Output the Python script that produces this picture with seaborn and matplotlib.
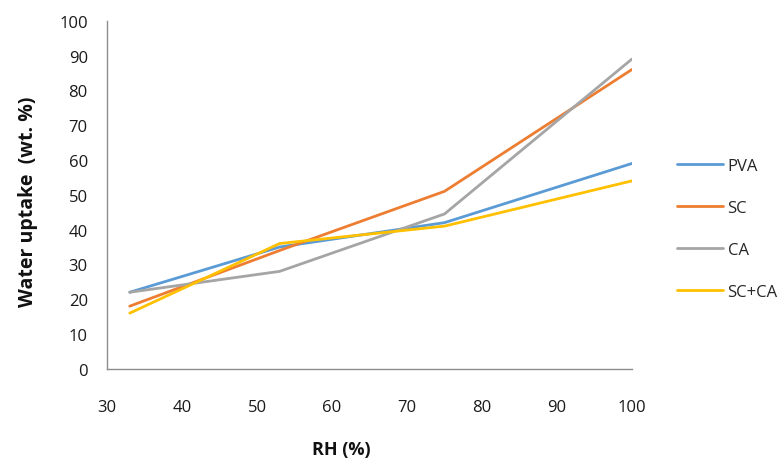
import matplotlib
matplotlib.use("Agg")
import matplotlib.pyplot as plt
import seaborn as sns
import pandas as pd

rh = [33, 53, 75, 100]
pva = [22, 35, 42, 59]
sc = [18, 34, 51, 86]
ca = [22, 28, 44.5, 89]
sc_ca = [16, 36, 41, 54]
series_names = ["PVA", "SC", "CA", "SC+CA"]
colors = ["#5B9BD5", "#ED7D31", "#A5A5A5", "#FFC000"]
x_ticks = [30, 40, 50, 60, 70, 80, 90, 100]
y_ticks = [0, 10, 20, 30, 40, 50, 60, 70, 80, 90, 100]

rows = []
for name, vals in zip(series_names, [pva, sc, ca, sc_ca]):
    for x, y in zip(rh, vals):
        rows.append({"RH": x, "uptake": y, "series": name})
df = pd.DataFrame(rows)

sns.set_theme(style="white")
plt.rcParams['font.family'] = ['Open Sans', 'DejaVu Sans']

fig = plt.figure(figsize=(7.83, 4.64), dpi=100)
ax = fig.add_axes([0.137, 0.203, 0.670, 0.750])
sns.lineplot(data=df, x="RH", y="uptake", hue="series", hue_order=series_names,
             palette=colors, linewidth=2.0, ax=ax, sort=False)

ax.set_xlim(30, 100)
ax.set_ylim(0, 100)
ax.set_xticks(x_ticks)
ax.set_yticks(y_ticks)
for s in ["top", "right"]:
    ax.spines[s].set_visible(False)
for s in ["left", "bottom"]:
    ax.spines[s].set_color("#8c8c8c")
    ax.spines[s].set_linewidth(1.0)
ax.tick_params(axis="both", which="major", length=5, width=1, color="#8c8c8c",
               direction="out", labelsize=12, labelcolor="#1a1a1a")
ax.tick_params(axis="x", pad=17)
ax.tick_params(axis="y", pad=9)
ax.set_xlabel("RH (%)", fontsize=13, fontweight="bold", color="#111111")
ax.set_ylabel("Water uptake  (wt. %)", fontsize=14, fontweight="bold", color="#111111")
ax.xaxis.set_label_coords(0.446, -0.205)
ax.yaxis.set_label_coords(-0.132, 0.483)

handles, labels = ax.get_legend_handles_labels()
ax.legend(handles, labels, loc="center left", bbox_to_anchor=(1.057, 0.402), frameon=False,
          fontsize=12, handlelength=2.75, handletextpad=0.3, labelspacing=1.55)

fig.savefig("out.png", dpi=100)
